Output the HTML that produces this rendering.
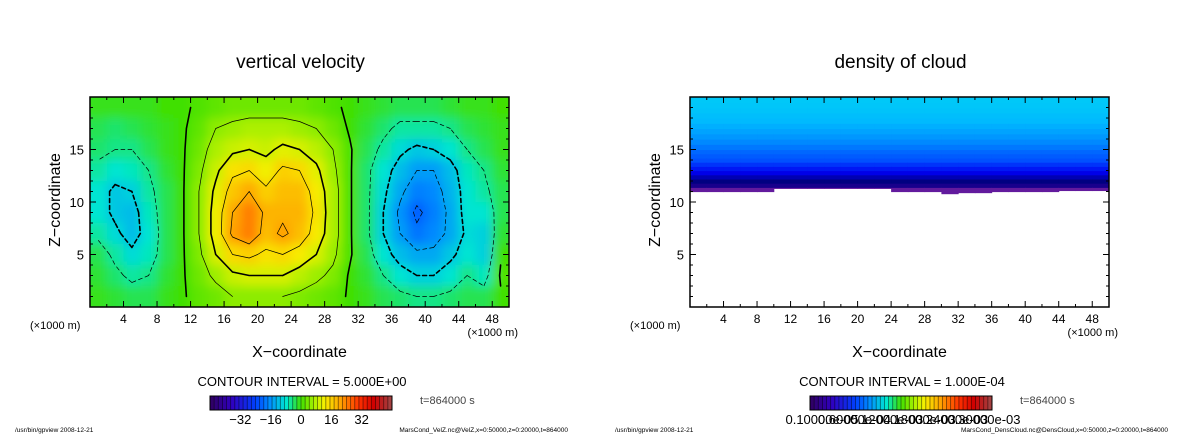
<!DOCTYPE html>
<html><head><meta charset="utf-8">
<style>
html,body{margin:0;padding:0;background:#fff;}
svg{display:block;font-family:"Liberation Sans","DejaVu Sans",sans-serif;}
</style></head>
<body>
<svg id="root" width="1200" height="434" viewBox="0 0 1200 434" xmlns="http://www.w3.org/2000/svg">
<defs>
<filter id="blur" x="-5%" y="-5%" width="110%" height="110%"><feGaussianBlur stdDeviation="5"/></filter>
<clipPath id="clipL"><rect x="90" y="97" width="419" height="210"/></clipPath>
<clipPath id="clipR"><rect x="690" y="97" width="419" height="210"/></clipPath>
</defs>
<g id="left"></g>
<g id="right"></g>
</svg>
<script>
// ---- data: vertical velocity (rows from z=19 down to z=1, cols x=1..49 step 2, units km)
const velX = [1,3,5,7,9,11,13,15,17,19,21,23,25,27,29,31,33,35,37,39,41,43,45,47,49];
const velZ = [19,17,15,13,11,9,7,5,3,1];
const velRows = [
[-1,-1,-1,-1,0,0,1,2,3,3,3,3,3,2,1,0,-1,-2,-3,-3,-3,-2,-1,-1,0],
[-3,-4,-3,-2,-1,0,2,5,6,7,7,7,6,5,3,0,-2,-4,-6,-6,-6,-5,-3,-2,-1],
[-4,-5,-5,-3,-1,0,3,7,9,10,9,11,10,8,5,1,-3,-6,-9,-11,-10,-8,-5,-3,-1],
[-6,-8,-7,-5,-2,0,4,9,14,15,12,16,15,11,6,1,-4,-8,-12,-15,-15,-12,-7,-5,-2],
[-8,-11,-10,-6,-3,0,5,11,17,20,16,18,18,13,7,1,-4,-9,-14,-18,-17,-13,-8,-6,-3],
[-8,-11,-12,-7,-3,0,5,12,20,24,19,19,19,14,7,1,-4,-10,-16,-21,-18,-14,-8,-8,-3],
[-6,-9,-12,-8,-3,0,5,12,21,24,18,21,18,13,7,1,-4,-10,-15,-19,-17,-14,-9,-10,-2],
[-3,-6,-9,-7,-3,0,4,10,15,16,14,15,13,10,6,1,-3,-8,-12,-14,-14,-11,-8,-10,0],
[-2,-4,-6,-5,-2,0,3,6,9,10,10,10,8,6,4,0,-2,-5,-8,-10,-10,-8,-5,-7,1],
[-1,-2,-3,-3,-1,0,2,3,5,5,5,5,4,3,2,0,-1,-3,-4,-5,-5,-4,-3,-3,0]
];
const velLevels = [-20,-15,-10,-5,0.5,5,10,15,20];
const velTicks = [-32,-16,0,16,32];
// ---- data: cloud density (x1e-4)
const cloudX = [1,3,5,7,9,11,13,15,17,19,21,23,25,27,29,31,33,35,37,39,41,43,45,47,49];
const cloudBase = [11.0,11.0,11.0,11.0,11.0,11.3,11.3,11.3,11.3,11.3,11.3,11.3,11.0,11.0,11.0,10.8,10.9,10.9,11.0,11.0,11.0,11.0,11.1,11.1,11.1];
const cloudZ = [11.4,11.8,12.2,12.6,13.0,13.4,13.8,14.2,14.6,15.0,15.5,16.0,16.5,17.0,17.5,18.0,18.5,19.0,19.5,20.0];
const cloudVal = [0.05,0.35,0.55,0.75,0.95,1.1,1.25,1.4,1.5,1.6,1.75,1.9,2.05,2.2,2.35,2.5,2.6,2.7,2.75,2.8];
const cloudTicks = ["0.10000e-05","0.60000e-04","0.12000e-03","0.18000e-03","0.24000e-03","0.30000e-03"];
const xTicks = [4,8,12,16,20,24,28,32,36,40,44,48];
const zTicks = [5,10,15];

const NS="http://www.w3.org/2000/svg";
function mk(tag,attrs,parent){const e=document.createElementNS(NS,tag);for(const k in attrs)e.setAttribute(k,attrs[k]);if(parent)parent.appendChild(e);return e;}
function hex(c){return [parseInt(c.slice(1,3),16),parseInt(c.slice(3,5),16),parseInt(c.slice(5,7),16)];}
function ramp(stops,t){t=Math.max(0,Math.min(1,t));for(let i=1;i<stops.length;i++){if(t<=stops[i][0]){const a=stops[i-1],b=stops[i];const f=(t-a[0])/(b[0]-a[0]);const ca=hex(a[1]),cb=hex(b[1]);return 'rgb('+ca.map((v,j)=>Math.round(v+(cb[j]-v)*f)).join(',')+')';}}return stops[stops.length-1][1];}
const velStops=[[0,'#300060'],[0.12,'#3000c0'],[0.25,'#0040ff'],[0.33,'#0090ff'],[0.42,'#00e8d0'],[0.5,'#40e000'],[0.57,'#a8f000'],[0.63,'#f8f000'],[0.72,'#ffa000'],[0.82,'#ff3000'],[0.9,'#d00000'],[1,'#a04848']];
const velColor=v=>ramp(velStops,(v+48)/96);
const rainbow=t=>ramp(velStops,t);
const cloudStops=[[0,'#7020a0'],[0.1,'#200090'],[0.2,'#000080'],[0.35,'#0000f0'],[0.5,'#0050ff'],[0.7,'#0090ff'],[0.88,'#00b8ff'],[1,'#00c8f8']];
const cloudColor=v=>ramp(cloudStops,v/2.8);

function axes(g,x0,label){
  const W=419,H=210,y0=97;
  const sx=v=>x0+v*W/50, sz=v=>y0+H-v*H/20;
  const fr=mk('rect',{x:x0,y:y0,width:W,height:H,fill:'none',stroke:'#000','stroke-width':1.5},g);
  
  for(let v=2;v<50;v+=2){const L=(v%4===0)?6:3;
    mk('line',{x1:sx(v),x2:sx(v),y1:y0+H,y2:y0+H-L,stroke:'#000','stroke-width':1},g);
    mk('line',{x1:sx(v),x2:sx(v),y1:y0,y2:y0+L,stroke:'#000','stroke-width':1},g);}
  for(let v=1;v<20;v++){const L=(v%5===0)?6:3;
    mk('line',{x1:x0,x2:x0+L,y1:sz(v),y2:sz(v),stroke:'#000','stroke-width':1},g);
    mk('line',{x1:x0+W,x2:x0+W-L,y1:sz(v),y2:sz(v),stroke:'#000','stroke-width':1},g);}
  xTicks.forEach(v=>{const t=mk('text',{x:sx(v),y:323,'font-size':12,'text-anchor':'middle'},g);t.textContent=v;
    });
  zTicks.forEach(v=>{const t=mk('text',{x:x0-6,y:sz(v)+5,'font-size':13,'text-anchor':'end'},g);t.textContent=v;
    });
  let t=mk('text',{x:x0-60,y:329,'font-size':11},g);t.textContent='(×1000 m)';
  
  t=mk('text',{x:x0+W+9,y:336,'font-size':11,'text-anchor':'end'},g);t.textContent='(×1000 m)';
  
  t=mk('text',{x:x0+W/2,y:357,'font-size':16,'text-anchor':'middle'},g);t.textContent='X−coordinate';
  
  t=mk('text',{x:0,y:0,'font-size':16,'text-anchor':'middle',transform:'translate('+(x0-30)+',200) rotate(-90)'},g);t.textContent='Z−coordinate';
  
  t=mk('text',{x:x0+W/2+1,y:68,'font-size':19,'text-anchor':'middle'},g);t.textContent=label;
  
  return {sx,sz};
}
function bottom(g,off,ci,fname,labels,lo,hi,isNum){
  let t=mk('text',{x:off+302,y:386,'font-size':13,'text-anchor':'middle'},g);t.textContent=ci;
  
  const bx=off+210,bw=182,by=396,bh=14,n=44;
  const cb=mk('g',{},g);
  for(let i=0;i<n;i++){
    mk('rect',{x:bx+i*bw/n,y:by,width:bw/n+0.3,height:bh,fill:rainbow((i+0.5)/n)},cb);
    mk('line',{x1:bx+i*bw/n,x2:bx+i*bw/n,y1:by,y2:by+bh,stroke:'#000','stroke-opacity':0.55,'stroke-width':0.8},cb);}
  mk('rect',{x:bx,y:by,width:bw,height:bh,fill:'none',stroke:'#000','stroke-width':1},cb);
  if(isNum){labels.forEach(v=>{const tt=mk('text',{x:bx+(v-lo)/(hi-lo)*bw,y:424,'font-size':13,'text-anchor':'middle'},g);tt.textContent=(v<0?'−'+(-v):v);
    });}
  else{labels.forEach((v,i)=>{const tt=mk('text',{x:bx+12+i*(bw-20)/(labels.length-1),y:424,'font-size':13,'text-anchor':'middle'},g);tt.textContent=v;
    });}
  t=mk('text',{x:off+420,y:404,'font-size':11,fill:'#444'},g);t.textContent='t=864000 s';
  
  t=mk('text',{x:off+15,y:432,'font-size':6.5},g);t.textContent='/usr/bin/gpview   2008-12-21';
  
  t=mk('text',{x:off+568,y:432,'font-size':6.5,'text-anchor':'end'},g);t.textContent=fname;
  
}
// left panel
const gL=document.getElementById('left');
const fieldL=mk('g',{'clip-path':'url(#clipL)'},gL);

const inner=mk('g',{filter:'url(#blur)'},fieldL);
const L0=90,sxL=v=>L0+v*419/50,szL=v=>97+210-v*210/20;
velRows.forEach((row,ri)=>row.forEach((v,ci)=>{
  let x1=sxL(velX[ci]-1),x2=sxL(velX[ci]+1),y1=szL(velZ[ri]+1),y2=szL(velZ[ri]-1);
  if(ci===0)x1-=30;if(ci===row.length-1)x2+=30;if(ri===0)y1-=30;if(ri===velRows.length-1)y2+=30;
  const r=mk('rect',{x:x1,y:y1,width:x2-x1+0.5,height:y2-y1+0.5,fill:velColor(v)},inner);
  
  
}));
// contours (marching squares)
const contG=mk('g',{fill:'none',stroke:'#000'},fieldL);

velLevels.forEach(lv=>{
  let d='';
  for(let ri=0;ri<velRows.length-1;ri++)for(let ci=0;ci<velX.length-1;ci++){
    const P=[[ci,ri],[ci+1,ri],[ci+1,ri+1],[ci,ri+1]];
    const pts=[];
    for(let k=0;k<4;k++){const a=P[k],b=P[(k+1)%4];
      const va=velRows[a[1]][a[0]],vb=velRows[b[1]][b[0]];
      if((va<lv)!==(vb<lv)){const f=(lv-va)/(vb-va);
        const x=velX[a[0]]+(velX[b[0]]-velX[a[0]])*f, z=velZ[a[1]]+(velZ[b[1]]-velZ[a[1]])*f;
        pts.push([sxL(x),szL(z)]);}}
    for(let k=0;k+1<pts.length;k+=2)d+='M'+pts[k][0].toFixed(1)+','+pts[k][1].toFixed(1)+'L'+pts[k+1][0].toFixed(1)+','+pts[k+1][1].toFixed(1);
  }
  const thick=(Math.abs(lv)<1||Math.abs(lv)===10);
  const p=mk('path',{d:d,'stroke-width':thick?1.6:0.7,'stroke-dasharray':lv<0?'4,3':'none','stroke-linecap':'round'},contG);
  
  
});
axes(gL,90,'vertical velocity');
bottom(gL,0,'CONTOUR INTERVAL = 5.000E+00','MarsCond_VelZ.nc@VelZ,x=0:50000,z=0:20000,t=864000',velTicks,-48,48,true);
// right panel
const gR=document.getElementById('right');
const fieldR=mk('g',{'clip-path':'url(#clipR)'},gR);

const R0=690,sxR=v=>R0+v*419/50;
cloudX.forEach((cx,ci)=>{
  cloudZ.forEach((z,zi)=>{
    const top=(zi===cloudZ.length-1)?21:z;
    const bot=(zi===0)?cloudBase[ci]:cloudZ[zi-1];
    let x1=sxR(cx-1),x2=sxR(cx+1);if(ci===0)x1-=20;if(ci===cloudX.length-1)x2+=20;
    const r=mk('rect',{x:x1,y:szL(top),width:x2-x1+0.5,height:szL(bot)-szL(top)+0.6,fill:cloudColor(cloudVal[zi])},fieldR);
    
    
  });
});
axes(gR,690,'density of cloud');
bottom(gR,600,'CONTOUR INTERVAL = 1.000E-04','MarsCond_DensCloud.nc@DensCloud,x=0:50000,z=0:20000,t=864000',cloudTicks,0,2.8,false);
</script>
</body></html>
